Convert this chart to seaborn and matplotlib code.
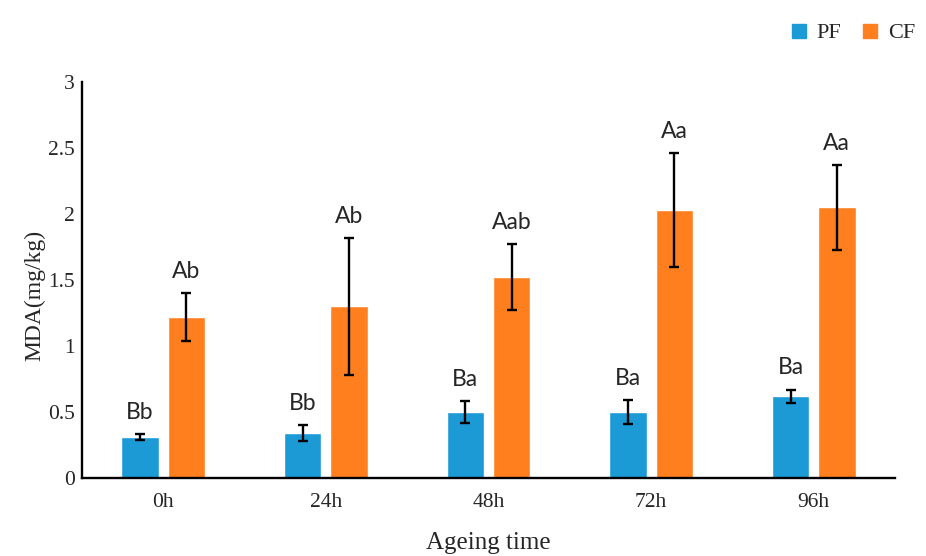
"""
plot.py — MDA content of PF and CF over ageing time, grouped bars with SD and letters.
"""

import matplotlib
matplotlib.use("Agg")
import matplotlib.pyplot as plt
from matplotlib.lines import Line2D
import numpy as np
import pandas as pd
import seaborn as sns

# data
times = ["0h", "24h", "48h", "72h", "96h"]
groups = ["PF", "CF"]
pf_mean = [0.31, 0.34, 0.50, 0.50, 0.62]
pf_err = [0.02, 0.06, 0.08, 0.09, 0.05]
cf_mean = [1.22, 1.30, 1.52, 2.03, 2.05]
cf_err = [0.18, 0.52, 0.25, 0.43, 0.32]
pf_letters = ["Bb", "Bb", "Ba", "Ba", "Ba"]
cf_letters = ["Ab", "Ab", "Aab", "Aa", "Aa"]
y_ticks = [0, 0.5, 1, 1.5, 2, 2.5, 3]
y_tick_labels = ["0", "0.5", "1", "1.5", "2", "2.5", "3"]

colors = ["#1C9AD6", "#FF7F1F"]

df = pd.DataFrame({
    "time":  times * 2,
    "group": ["PF"] * len(times) + ["CF"] * len(times),
    "MDA":   pf_mean + cf_mean,
})

sns.set_theme(style="white")
plt.rcParams["font.family"] = ["Liberation Serif", "DejaVu Serif"]

fig = plt.figure(figsize=(9.26, 5.56), dpi=100)
ax = fig.add_axes([82 / 926, 78 / 556, 813 / 926, 396 / 556])

sns.barplot(
    data=df, x="time", y="MDA", hue="group",
    order=times, hue_order=groups, palette=colors,
    width=0.57, gap=0.19, errorbar=None, legend=False,
    saturation=1, ax=ax,
)

# error bars + significance letters on top of each bar
for cont, errs, letters in zip(ax.containers, [pf_err, cf_err], [pf_letters, cf_letters]):
    xs = [b.get_x() + b.get_width() / 2 for b in cont]
    hs = [b.get_height() for b in cont]
    ax.errorbar(xs, hs, yerr=errs, fmt="none", ecolor="black",
                elinewidth=1.7, capsize=3.5, capthick=1.7)
    for x, h, e, lab in zip(xs, hs, errs, letters):
        ax.annotate(lab, (x, h + e), xytext=(0, 8), textcoords="offset points",
                    ha="center", va="bottom", fontsize=16.5, family="Lato")

ax.set_xlim(-0.5, len(times) - 0.5)
ax.set_ylim(0, 3)
ax.set_yticks(y_ticks)
ax.set_yticklabels(y_tick_labels)
ax.set_xticks(np.arange(-0.5, len(times), 1), minor=True)

ax.tick_params(axis="y", direction="in", length=8, width=1.6, labelsize=15.5, pad=5)
ax.tick_params(axis="x", which="major", length=0, labelsize=15.5, pad=11)
ax.tick_params(axis="x", which="minor", direction="in", length=8, width=1.6)

sns.despine(ax=ax)
for side in ["left", "bottom"]:
    ax.spines[side].set_linewidth(1.7)
    ax.spines[side].set_color("black")

ax.set_xlabel("Ageing time", fontsize=18, labelpad=14)
ax.set_ylabel("MDA(mg/kg)", fontsize=17)
ax.yaxis.set_label_coords(-0.045, 0.46)

handles = [Line2D([], [], marker="s", linestyle="none", markersize=9.5,
                  markerfacecolor=c, markeredgecolor=c) for c in colors]
fig.legend(handles, groups, loc="upper right", bbox_to_anchor=(1.01, 0.995),
           ncol=2, frameon=False, fontsize=16, handlelength=0.8,
           handletextpad=0.4, columnspacing=0.9)

fig.savefig("out.png", dpi=100)
